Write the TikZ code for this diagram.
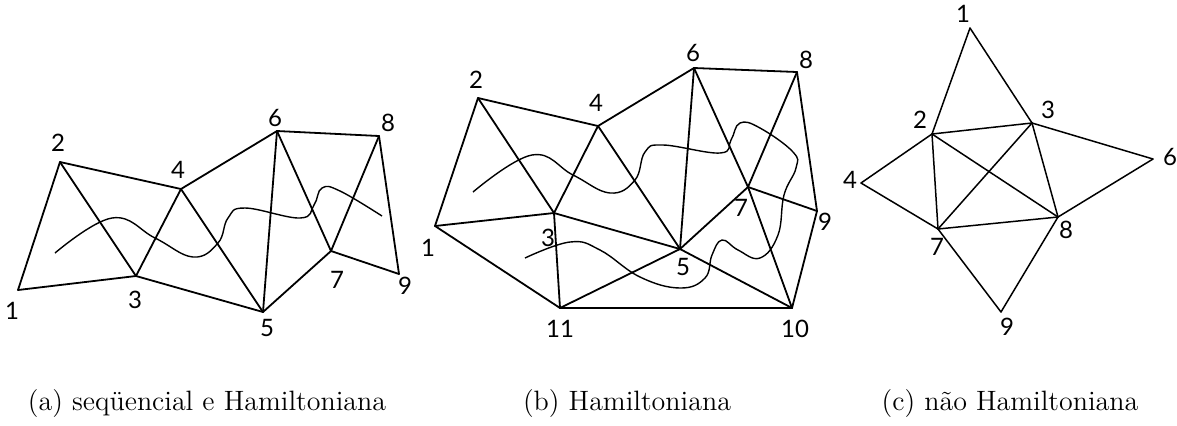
\documentclass[tikz,border=0pt]{standalone}
\usepackage{fontspec}
\newfontfamily\vertexfont{Lato}
\tikzset{
  edge/.style={line width=0.9pt,line cap=round,line join=round},
  route/.style={line width=0.7pt,smooth,tension=0.7},
  vlabel/.style={font=\vertexfont\fontsize{12}{14}\selectfont,inner sep=0pt},
  caption/.style={font=\fontsize{14}{16}\selectfont,inner sep=0pt}
}

\begin{document}
\begin{tikzpicture}[x=0.5pt,y=-0.5pt]
  \useasboundingbox (0,0) rectangle (1177,425);

  % (a) sequential graph
  \foreach \n/\p/\q in {1/{18,290}/{12,311},2/{60,162}/{58,143},3/{136,276}/{135,300},
      4/{181,189}/{178,170},5/{263,312}/{267,328},6/{277,131}/{275,118},
      7/{331,251}/{337,280},8/{379,136}/{388,123},9/{399,274}/{405,286}}{
    \coordinate (a\n) at (\p);
    \node[vlabel] (a\n-label) at (\q) {\n};
  }
  \foreach \u/\v in {1/2,1/3,2/3,2/4,3/4,3/5,4/5,4/6,5/6,5/7,6/7,6/8,7/8,7/9,8/9}
    \draw[edge] (a\u) -- (a\v);
  \draw[route] plot coordinates {(55,253) (112,218) (155,238) (193,257) (218,243)
      (228,218) (245,208) (300,218) (314,205) (322,188) (340,191) (382,216)};

  % (b) Hamiltonian graph
  \foreach \n/\p/\q in {1/{435,226}/{428,248},2/{478,98}/{476,80},3/{554,213}/{548,238},
      4/{598,126}/{596,103},5/{680,249}/{683,267},6/{694,68}/{693,53},
      7/{748,187}/{741,208},8/{797,72}/{806,60},9/{817,211}/{825,222},
      10/{792,308}/{795,329},11/{560,308}/{560,329}}{
    \coordinate (b\n) at (\p);
    \node[vlabel] (b\n-label) at (\q) {\n};
  }
  \foreach \u/\v in {1/2,1/3,1/11,2/3,2/4,3/4,3/5,3/11,4/5,4/6,5/6,5/7,5/10,5/11,
      6/7,6/8,7/8,7/9,7/10,8/9,9/10,10/11}
    \draw[edge] (b\u) -- (b\v);
  \draw[route] plot coordinates {(473,192) (532,155) (573,175) (610,193) (635,180)
      (645,152) (663,145) (720,153) (731,140) (740,123) (760,128) (793,152)
      (796,168) (784,195) (778,235) (760,258) (738,250) (722,240) (712,255)
      (705,278) (680,288) (640,277) (600,250) (570,242) (525,258)};

  % (c) non-Hamiltonian graph
  \foreach \n/\p/\q in {1/{970,28}/{963,14},2/{932,134}/{920,120},3/{1032,123}/{1048,110},
      4/{861,183}/{850,180},6/{1153,159}/{1170,157},7/{938,229}/{937,247},
      8/{1058,217}/{1066,230},9/{1001,312}/{1007,327}}{
    \coordinate (c\n) at (\p);
    \node[vlabel] (c\n-label) at (\q) {\n};
  }
  \foreach \u/\v in {1/2,1/3,2/3,2/4,2/7,2/8,3/6,3/7,3/8,4/7,6/8,7/8,7/9,8/9}
    \draw[edge,line width=0.75pt] (c\u) -- (c\v);

  % captions
  \node[caption] (cap-a) at (207,403) {(a) seqüencial e Hamiltoniana};
  \node[caption] (cap-b) at (627,403) {(b) Hamiltoniana};
  \node[caption] (cap-c) at (1010,403) {(c) não Hamiltoniana};
\end{tikzpicture}
\end{document}
